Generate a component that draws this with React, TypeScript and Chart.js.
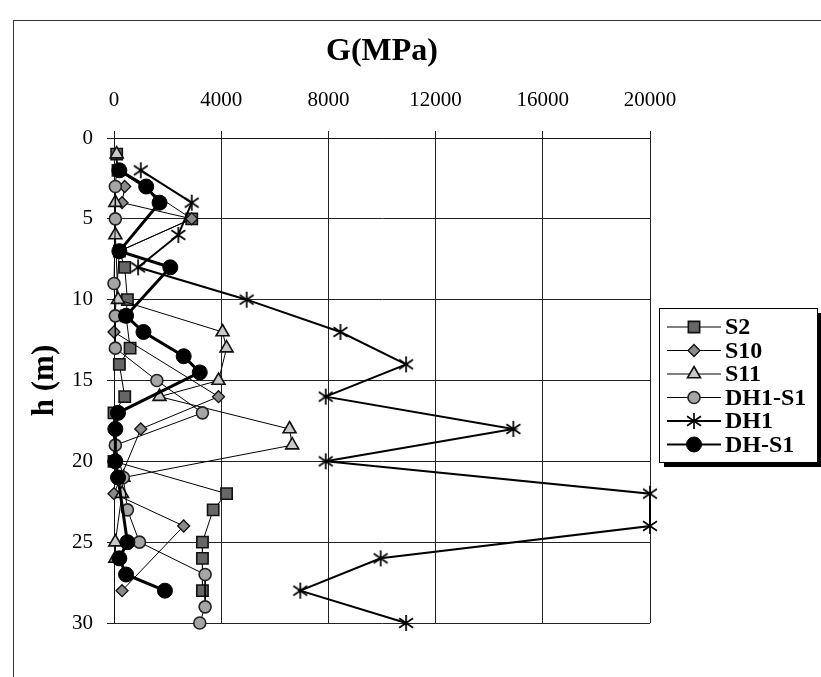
import React, { useEffect, useRef } from "react";
import { Chart, registerables } from "chart.js";

Chart.register(...registerables);

// Axis ticks
const xTickValues = [0, 4000, 8000, 12000, 16000, 20000];
const yTickValues = [0, 5, 10, 15, 20, 25, 30];
const seriesNames = ["S2", "S10", "S11", "DH1-S1", "DH1", "DH-S1"];

// S2
const s2Depth = [1, 2, 5, 7, 8, 10, 11, 13, 14, 16, 17, 20, 22, 23, 25, 26, 28];
const s2G = [100, 150, 2900, 200, 400, 500, 450, 600, 200, 400, 0, 0, 4200, 3700, 3300, 3300, 3300];

// S10
const s10Depth = [3, 4, 5, 7, 12, 16, 18, 22, 24, 28];
const s10G = [400, 300, 2900, 200, 0, 3900, 1000, 0, 2600, 300];

// S11
const s11Depth = [1, 4, 6, 10, 12, 13, 15, 16, 18, 19, 21, 22, 25, 26];
const s11G = [100, 50, 50, 150, 4050, 4200, 3900, 1700, 6550, 6650, 350, 300, 50, 50];

// DH1-S1
const dh1s1Depth = [3, 5, 9, 11, 13, 15, 17, 19, 21, 23, 25, 27, 29, 30];
const dh1s1G = [50, 50, 0, 50, 50, 1600, 3300, 50, 350, 500, 950, 3400, 3400, 3200];

// DH1
const dh1Depth = [2, 4, 6, 8, 10, 12, 14, 16, 18, 20, 22, 24, 26, 28, 30];
const dh1G = [1000, 2900, 2400, 900, 4950, 8450, 10900, 7900, 14900, 7900, 20000, 20000, 9950, 6950, 10900];

// DH-S1
const dhs1Depth = [2, 3, 4, 7, 8, 11, 12, 13.5, 14.5, 17, 18, 20, 21, 25, 26, 27, 28];
const dhs1G = [200, 1200, 1700, 200, 2100, 450, 1100, 2600, 3200, 150, 50, 50, 150, 500, 200, 450, 1900];

const SERIF = "'Liberation Serif', 'Times New Roman', serif";

function pairs(depths: number[], gs: number[]) {
  return depths.map((d, i) => ({ x: gs[i], y: d }));
}

function makeAsterisk(size: number, lw: number): HTMLCanvasElement {
  const c = document.createElement("canvas");
  c.width = size;
  c.height = size;
  const g = c.getContext("2d")!;
  const m = size / 2;
  const r = size / 2 - 1;
  g.strokeStyle = "#000";
  g.lineWidth = lw;
  g.beginPath();
  g.moveTo(m, m - r);
  g.lineTo(m, m + r);
  const a = r * 0.87;
  const b = r * 0.6;
  g.moveTo(m - a, m - b);
  g.lineTo(m + a, m + b);
  g.moveTo(m + a, m - b);
  g.lineTo(m - a, m + b);
  g.stroke();
  return c;
}

type Style = {
  shape: string;
  r: number;
  fill: string;
  stroke: string;
  pbw: number;
  lw: number;
};

const styles: Style[] = [
  { shape: "rect", r: 8, fill: "#666", stroke: "#111", pbw: 1.6, lw: 1 },
  { shape: "rectRot", r: 6, fill: "#8a8a8a", stroke: "#111", pbw: 1.3, lw: 1 },
  { shape: "triangle", r: 7.5, fill: "#c8c8c8", stroke: "#111", pbw: 1.6, lw: 1 },
  { shape: "circle", r: 6, fill: "#a5a5a5", stroke: "#222", pbw: 1.6, lw: 1 },
  { shape: "star", r: 8, fill: "#000", stroke: "#000", pbw: 1.6, lw: 2 },
  { shape: "circle", r: 7.5, fill: "#000", stroke: "#000", pbw: 1, lw: 3 },
];

function drawMarker(ctx: CanvasRenderingContext2D, s: Style, x: number, y: number, star: HTMLCanvasElement) {
  ctx.save();
  ctx.fillStyle = s.fill;
  ctx.strokeStyle = s.stroke;
  ctx.lineWidth = s.pbw;
  ctx.beginPath();
  if (s.shape === "rect") {
    const h = s.r * Math.SQRT1_2;
    ctx.rect(x - h, y - h, 2 * h, 2 * h);
    ctx.fill();
    ctx.stroke();
  } else if (s.shape === "rectRot") {
    ctx.moveTo(x, y - s.r);
    ctx.lineTo(x + s.r, y);
    ctx.lineTo(x, y + s.r);
    ctx.lineTo(x - s.r, y);
    ctx.closePath();
    ctx.fill();
    ctx.stroke();
  } else if (s.shape === "triangle") {
    const r = s.r;
    ctx.moveTo(x, y - r);
    ctx.lineTo(x + r * Math.sin(Math.PI / 3), y + r / 2);
    ctx.lineTo(x - r * Math.sin(Math.PI / 3), y + r / 2);
    ctx.closePath();
    ctx.fill();
    ctx.stroke();
  } else if (s.shape === "circle") {
    ctx.arc(x, y, s.r, 0, Math.PI * 2);
    ctx.fill();
    ctx.stroke();
  } else {
    ctx.drawImage(star, x - star.width / 2, y - star.height / 2);
  }
  ctx.restore();
}

export default function App() {
  const ref = useRef<HTMLCanvasElement>(null);

  useEffect(() => {
    if (!ref.current) return;
    const star = makeAsterisk(18, 1.7);
    const allData = [
      pairs(s2Depth, s2G),
      pairs(s10Depth, s10G),
      pairs(s11Depth, s11G),
      pairs(dh1s1Depth, dh1s1G),
      pairs(dh1Depth, dh1G),
      pairs(dhs1Depth, dhs1G),
    ];
    const datasets = allData.map((data, i) => {
      const s = styles[i];
      return {
        label: seriesNames[i],
        data,
        showLine: true,
        borderColor: "#000",
        borderWidth: s.lw,
        pointStyle: s.shape === "star" ? star : s.shape,
        pointRadius: s.r,
        pointHoverRadius: s.r,
        pointBackgroundColor: s.fill,
        pointBorderColor: s.stroke,
        pointBorderWidth: s.pbw,
        clip: false as any,
        order: 6 - i,
      };
    });

    const legendPlugin = {
      id: "boxLegend",
      afterDraw(chart: any) {
        const ctx: CanvasRenderingContext2D = chart.ctx;
        ctx.save();
        const bx = 659, by = 308, bw = 158, bh = 154;
        ctx.fillStyle = "#000";
        ctx.fillRect(bx + 5, by + 5, bw, bh);
        ctx.fillStyle = "#fff";
        ctx.fillRect(bx, by, bw, bh);
        ctx.strokeStyle = "#000";
        ctx.lineWidth = 1;
        ctx.strokeRect(bx + 0.5, by + 0.5, bw, bh);
        seriesNames.forEach((name, i) => {
          const y = 327 + i * 23.5;
          const s = styles[i];
          ctx.strokeStyle = "#000";
          ctx.lineWidth = Math.min(s.lw, 2);
          ctx.beginPath();
          ctx.moveTo(667, y);
          ctx.lineTo(721, y);
          ctx.stroke();
          drawMarker(ctx, s, 694, y, star);
          ctx.fillStyle = "#000";
          ctx.font = `bold 24px ${SERIF}`;
          ctx.textBaseline = "middle";
          ctx.textAlign = "left";
          ctx.fillText(name, 725, y + 1);
        });
        ctx.restore();
      },
    };

    const chart = new Chart(ref.current, {
      type: "scatter",
      data: { datasets: datasets as any },
      plugins: [legendPlugin],
      options: {
        animation: false,
        responsive: false,
        maintainAspectRatio: false,
        layout: { padding: { left: 0, top: 0, right: 171, bottom: 54 } },
        plugins: {
          legend: { display: false },
          tooltip: { enabled: false },
          title: { display: false },
        },
        scales: {
          x: {
            type: "linear",
            position: "top",
            min: 0,
            max: 20000,
            afterBuildTicks: (scale: any) => {
              scale.ticks = xTickValues.map((v) => ({ value: v }));
            },
            afterFit: (scale: any) => {
              scale.height = 138;
            },
            ticks: {
              color: "#000",
              font: { family: SERIF, size: 21 },
              padding: 18,
              maxRotation: 0,
              autoSkip: false,
              callback: (v: any) => String(v),
            },
            grid: { color: "#222", lineWidth: 1, tickLength: 7, drawTicks: true },
            border: { color: "#111", width: 1 },
            title: {
              display: true,
              text: "G(MPa)",
              color: "#000",
              font: { family: SERIF, size: 32, weight: "bold" },
              padding: { top: 33, bottom: 0 },
            },
          },
          y: {
            type: "linear",
            reverse: true,
            min: 0,
            max: 30,
            afterBuildTicks: (scale: any) => {
              scale.ticks = yTickValues.map((v) => ({ value: v }));
            },
            afterFit: (scale: any) => {
              scale.width = 114;
            },
            ticks: {
              color: "#000",
              font: { family: SERIF, size: 21 },
              padding: 14,
              autoSkip: false,
            },
            grid: { color: "#222", lineWidth: 1, tickLength: 7, drawTicks: true },
            border: { color: "#111", width: 1 },
            title: {
              display: true,
              text: "h (m)",
              color: "#000",
              font: { family: SERIF, size: 31, weight: "bold" },
              padding: { top: 26, bottom: 0 },
            },
          },
        },
      } as any,
    });
    return () => chart.destroy();
  }, []);

  return (
    <div
      style={{
        position: "absolute",
        left: 0,
        top: 0,
        width: 821,
        height: 677,
        overflow: "hidden",
        background: "#fff",
      }}
    >
      <div
        style={{
          position: "absolute",
          left: 13,
          top: 20,
          width: 900,
          height: 800,
          border: "1px solid #333",
        }}
      />
      <canvas
        ref={ref}
        width={821}
        height={677}
        style={{ position: "absolute", left: 0, top: 0, width: 821, height: 677 }}
      />
    </div>
  );
}
